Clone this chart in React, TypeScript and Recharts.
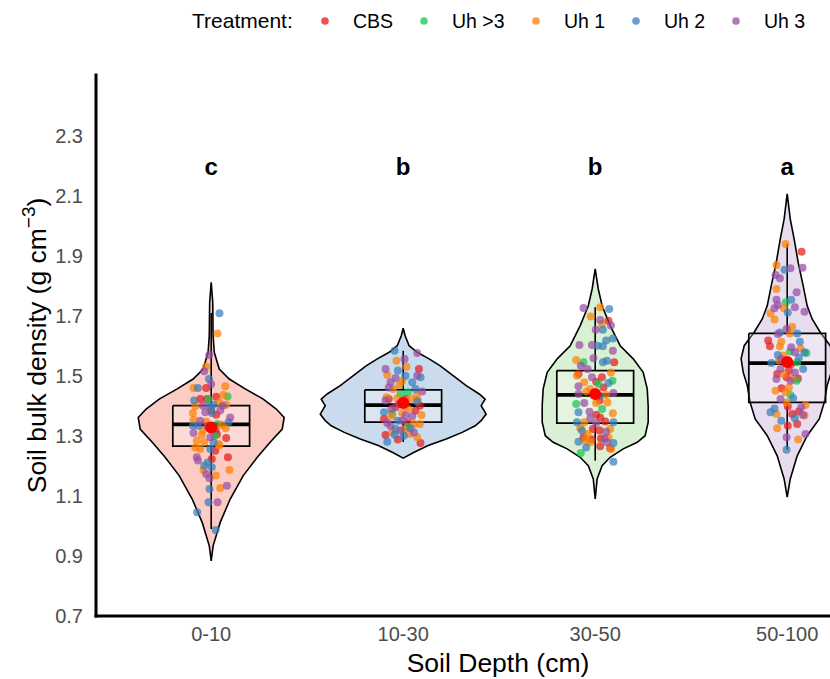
import React from "react";
import { ComposedChart, Scatter, XAxis, YAxis } from "recharts";

const FONT = "'Liberation Sans', Arial, Helvetica, sans-serif";

const depths = ["0-10", "10-30", "30-50", "50-100"];
const treatments = ["CBS", "Uh >3", "Uh 1", "Uh 2", "Uh 3"];
const groupLetters = ["c", "b", "b", "a"];
const yTicks = [0.7, 0.9, 1.1, 1.3, 1.5, 1.7, 1.9, 2.1, 2.3];

// violin outlines, top to bottom: [bulk density, half width in category units]
const violin0_10: [number, number][] = [
  [1.812, 0], [1.746, 0.008], [1.634, 0.01], [1.579, 0.016], [1.523, 0.042],
  [1.49, 0.094], [1.457, 0.177], [1.423, 0.271], [1.39, 0.339], [1.362, 0.38],
  [1.323, 0.37], [1.279, 0.307], [1.229, 0.24], [1.168, 0.167], [1.09, 0.099],
  [1.012, 0.047], [0.934, 0.01], [0.884, 0],
];
const violin10_30: [number, number][] = [
  [1.659, 0], [1.634, 0.01], [1.601, 0.031], [1.579, 0.073], [1.557, 0.135],
  [1.534, 0.193], [1.501, 0.26], [1.468, 0.328], [1.44, 0.396], [1.423, 0.427],
  [1.401, 0.406], [1.373, 0.432], [1.351, 0.406], [1.334, 0.375], [1.312, 0.307],
  [1.29, 0.224], [1.268, 0.13], [1.246, 0.057], [1.226, 0],
];
const violin30_50: [number, number][] = [
  [1.857, 0], [1.79, 0.016], [1.734, 0.036], [1.668, 0.078], [1.601, 0.13],
  [1.557, 0.198], [1.512, 0.25], [1.457, 0.271], [1.401, 0.276], [1.346, 0.276],
  [1.301, 0.26], [1.279, 0.219], [1.257, 0.146], [1.229, 0.078], [1.201, 0.036],
  [1.157, 0.01], [1.09, 0],
];
const violin50_100: [number, number][] = [
  [2.107, 0], [2.023, 0.016], [1.957, 0.036], [1.879, 0.057], [1.801, 0.083],
  [1.734, 0.104], [1.69, 0.13], [1.646, 0.172], [1.601, 0.224], [1.557, 0.24],
  [1.512, 0.229], [1.468, 0.208], [1.412, 0.193], [1.357, 0.167], [1.301, 0.104],
  [1.234, 0.052], [1.157, 0.016], [1.096, 0],
];
const violins = [violin0_10, violin10_30, violin30_50, violin50_100];

// box plot: [lower whisker, q1, median, q3, upper whisker]
const boxStats: [number, number, number, number, number][] = [
  [0.99, 1.266, 1.339, 1.401, 1.71],
  [1.28, 1.346, 1.403, 1.454, 1.584],
  [1.218, 1.343, 1.437, 1.518, 1.729],
  [1.254, 1.412, 1.543, 1.642, 1.94],
];
const groupMeans = [1.328, 1.41, 1.44, 1.547];

// jittered observations: [x jitter, bulk density, treatment index]
const obs0_10: [number, number, number][] = [
  [0.043, 1.709, 3], [0.033, 1.642, 2], [-0.01, 1.57, 4], [-0.026, 1.532, 2], [-0.036, 1.516, 4],
  [-0.012, 1.49, 3], [0, 1.473, 4], [-0.092, 1.46, 2], [-0.069, 1.46, 3], [-0.026, 1.46, 0],
  [0.073, 1.466, 2], [0.064, 1.437, 2], [0.085, 1.432, 1], [0.026, 1.431, 0], [-0.057, 1.423, 0],
  [-0.014, 1.423, 1], [-0.089, 1.418, 3], [0.043, 1.412, 2], [0.078, 1.404, 2], [0.012, 1.404, 3],
  [-0.043, 1.401, 4], [-0.009, 1.399, 3], [-0.083, 1.399, 2], [0.061, 1.401, 4], [-0.095, 1.377, 2],
  [-0.031, 1.379, 4], [0.003, 1.377, 3], [0.026, 1.371, 0], [0.099, 1.362, 4], [-0.092, 1.354, 2],
  [-0.057, 1.351, 4], [-0.026, 1.348, 2], [0.09, 1.346, 3], [-0.095, 1.334, 3], [0.033, 1.34, 1],
  [0.056, 1.337, 2], [-0.019, 1.332, 4], [0.076, 1.326, 2], [-0.092, 1.31, 4], [-0.049, 1.304, 2],
  [0.019, 1.301, 1], [-0.005, 1.296, 4], [0.078, 1.293, 0], [-0.075, 1.284, 2], [-0.036, 1.279, 2],
  [0.038, 1.273, 2], [0.012, 1.279, 3], [-0.083, 1.262, 2], [-0.057, 1.257, 2], [0.021, 1.251, 0],
  [0.043, 1.268, 2], [-0.075, 1.229, 4], [0.087, 1.229, 0], [0.003, 1.223, 0], [-0.069, 1.218, 4],
  [-0.019, 1.212, 3], [-0.036, 1.201, 3], [0.003, 1.196, 3], [-0.04, 1.187, 2], [0.095, 1.187, 2],
  [-0.026, 1.173, 4], [0.024, 1.168, 2], [-0.009, 1.159, 4], [-0.009, 1.123, 3], [0.082, 1.134, 4],
  [0.047, 1.127, 2], [-0.014, 1.079, 3], [0.033, 1.079, 4], [-0.073, 1.046, 3], [0.023, 0.987, 3],
  [0, 1.385, 0], [-0.066, 1.334, 3], [-0.043, 1.318, 2], [0.047, 1.385, 4], [-0.022, 1.423, 0],
  [0.023, 1.318, 0], [-0.005, 1.257, 3], [0.03, 1.305, 0],
];
const obs10_30: [number, number, number][] = [
  [-0.045, 1.584, 3], [0.073, 1.577, 4], [-0.035, 1.551, 2], [0.007, 1.557, 4], [0.017, 1.531, 2],
  [-0.092, 1.523, 4], [0.082, 1.523, 0], [-0.028, 1.518, 3], [0.073, 1.501, 4], [-0.083, 1.503, 2],
  [0.09, 1.496, 3], [-0.04, 1.493, 4], [-0.005, 1.484, 2], [0.012, 1.501, 3], [-0.066, 1.479, 4],
  [-0.052, 1.457, 2], [0.064, 1.457, 3], [0.024, 1.446, 1], [-0.014, 1.44, 1], [0.099, 1.448, 4],
  [-0.087, 1.429, 2], [0.069, 1.434, 2], [-0.075, 1.423, 0], [-0.092, 1.418, 4], [0.038, 1.423, 2],
  [-0.023, 1.407, 4], [0.073, 1.414, 3], [0.076, 1.421, 2], [-0.04, 1.396, 0], [0.026, 1.39, 2],
  [-0.062, 1.39, 4], [0.064, 1.384, 0], [-0.005, 1.377, 2], [-0.1, 1.379, 3], [0.012, 1.368, 4],
  [0.095, 1.37, 2], [-0.1, 1.357, 0], [-0.061, 1.366, 2], [0.047, 1.366, 4], [-0.083, 1.343, 4],
  [-0.028, 1.351, 3], [0.087, 1.34, 2], [0.024, 1.343, 0], [-0.066, 1.334, 4], [0.021, 1.329, 1],
  [-0.04, 1.323, 3], [0.003, 1.321, 2], [0.035, 1.307, 2], [-0.092, 1.303, 0], [-0.045, 1.304, 3],
  [-0.014, 1.318, 4], [-0.028, 1.288, 0], [0.073, 1.296, 2], [-0.083, 1.281, 3], [0.09, 1.277, 0],
  [0.056, 1.312, 4], [0.003, 1.301, 3], [-0.057, 1.314, 2], [-0.075, 1.462, 4], [-0.019, 1.47, 2],
  [0.047, 1.479, 3], [0.087, 1.401, 0], [-0.057, 1.373, 1], [0.056, 1.34, 2], [-0.005, 1.351, 4],
  [0.038, 1.326, 3], [0.012, 1.423, 0], [-0.031, 1.426, 2],
];
const obs30_50: [number, number, number][] = [
  [-0.061, 1.727, 4], [0.026, 1.729, 2], [0.073, 1.723, 3], [-0.023, 1.698, 2], [0.026, 1.687, 4],
  [0.069, 1.684, 0], [0.035, 1.673, 2], [0.082, 1.668, 4], [0.003, 1.654, 4], [0.04, 1.654, 3],
  [0.092, 1.625, 3], [0.057, 1.618, 3], [-0.082, 1.603, 4], [-0.017, 1.603, 4], [0.012, 1.601, 3],
  [0.04, 1.599, 3], [0.092, 1.584, 4], [-0.009, 1.559, 4], [-0.099, 1.553, 2], [0.061, 1.551, 3],
  [0.04, 1.546, 3], [-0.061, 1.546, 1], [0.099, 1.546, 0], [-0.075, 1.534, 4], [-0.087, 1.507, 0],
  [-0.04, 1.523, 4], [0.082, 1.512, 2], [-0.095, 1.501, 2], [-0.017, 1.496, 4], [0.035, 1.496, 0],
  [0.09, 1.484, 1], [-0.057, 1.479, 2], [0.005, 1.481, 0], [0.017, 1.473, 1], [-0.087, 1.466, 4],
  [0.069, 1.477, 3], [-0.026, 1.457, 2], [0.043, 1.462, 0], [-0.087, 1.44, 4], [0.057, 1.437, 2],
  [0.095, 1.443, 4], [-0.047, 1.448, 2], [0.023, 1.434, 3], [-0.099, 1.407, 1], [-0.057, 1.41, 4],
  [0.005, 1.41, 2], [0.064, 1.412, 2], [0.023, 1.418, 0], [0.036, 1.39, 1], [-0.087, 1.379, 3],
  [-0.03, 1.381, 4], [0.092, 1.376, 2], [0.005, 1.371, 0], [-0.026, 1.359, 4], [0.026, 1.362, 0],
  [-0.095, 1.346, 3], [0.095, 1.346, 3], [0.052, 1.348, 0], [-0.057, 1.346, 2], [0.005, 1.343, 4],
  [-0.078, 1.326, 2], [-0.012, 1.323, 0], [0.023, 1.318, 0], [0.078, 1.323, 2], [-0.069, 1.318, 3],
  [-0.04, 1.307, 2], [0.057, 1.314, 4], [-0.061, 1.296, 0], [0.069, 1.296, 2], [-0.017, 1.288, 0],
  [0.061, 1.279, 4], [-0.052, 1.284, 2], [-0.087, 1.281, 3], [0.03, 1.292, 0], [-0.026, 1.279, 2],
  [0.095, 1.277, 3], [0.049, 1.292, 4], [-0.047, 1.262, 3], [0.026, 1.266, 0], [0.078, 1.259, 0],
  [0.083, 1.257, 2], [-0.075, 1.243, 1], [0.095, 1.214, 3],
];
const obs50_100: [number, number, number][] = [
  [-0.009, 1.94, 2], [0.075, 1.914, 0], [-0.056, 1.87, 2], [-0.014, 1.854, 3], [0.017, 1.859, 4],
  [0.08, 1.861, 4], [-0.061, 1.837, 4], [-0.038, 1.826, 4], [-0.056, 1.79, 2], [0.049, 1.779, 4],
  [-0.056, 1.754, 4], [0.021, 1.754, 3], [-0.007, 1.746, 1], [-0.049, 1.737, 4], [0.04, 1.729, 4],
  [-0.017, 1.726, 2], [-0.066, 1.726, 4], [-0.087, 1.709, 2], [0.003, 1.712, 3], [0.09, 1.714, 4],
  [-0.066, 1.688, 2], [0.026, 1.664, 2], [-0.003, 1.657, 4], [-0.038, 1.645, 3], [0.014, 1.642, 2],
  [0.052, 1.642, 3], [-0.049, 1.64, 4], [-0.031, 1.614, 2], [-0.099, 1.618, 0], [0.066, 1.614, 3],
  [-0.09, 1.599, 0], [-0.038, 1.598, 2], [0.021, 1.596, 4], [0.069, 1.592, 2], [0.014, 1.582, 1],
  [0.04, 1.579, 4], [0.09, 1.579, 3], [0.1, 1.577, 1], [-0.049, 1.57, 3], [-0.021, 1.568, 2],
  [0.061, 1.562, 3], [-0.031, 1.557, 4], [-0.082, 1.543, 3], [-0.043, 1.551, 2], [0.021, 1.54, 0],
  [0.052, 1.546, 1], [0.083, 1.523, 3], [-0.035, 1.523, 4], [0.009, 1.518, 0], [-0.021, 1.507, 2],
  [-0.052, 1.507, 0], [0.04, 1.512, 4], [-0.003, 1.496, 0], [-0.056, 1.49, 4], [0.026, 1.492, 2],
  [0.056, 1.492, 0], [0.049, 1.484, 1], [0.017, 1.484, 4], [-0.061, 1.451, 2], [-0.03, 1.459, 0],
  [0.009, 1.462, 2], [-0.009, 1.446, 2], [0.017, 1.437, 1], [-0.035, 1.423, 4], [0.031, 1.426, 3],
  [-0.003, 1.412, 2], [0.003, 1.398, 0], [-0.066, 1.392, 3], [0.073, 1.396, 4], [0.095, 1.403, 2],
  [0.061, 1.382, 0], [-0.087, 1.379, 3], [0.026, 1.373, 0], [-0.056, 1.373, 2], [0.083, 1.37, 4],
  [0.04, 1.359, 3], [0.09, 1.368, 2], [-0.031, 1.351, 3], [0.052, 1.34, 0], [0.003, 1.334, 0],
  [-0.052, 1.326, 2], [-0.003, 1.296, 4], [0.095, 1.307, 4], [0.057, 1.288, 2], [-0.003, 1.254, 3],
];
const observations = [obs0_10, obs10_30, obs30_50, obs50_100];

const treatmentColors = ["#E41A1C", "#12C650", "#FF7F00", "#377EB8", "#984EA3"];
const violinFills = ["#FBCBC4", "#C9DBEC", "#D9F0D5", "#E7DDEE"];

const BOX_HALF = 0.2;
const noDot = () => <g />;

function violinOutline(profile: [number, number][], center: number) {
  const right = profile.map(([y, w]) => ({ x: center + w, y }));
  const left = [...profile].reverse().map(([y, w]) => ({ x: center - w, y }));
  return [...right, ...left, right[0]];
}

function boxOutline(stats: number[], center: number) {
  const q1 = stats[1];
  const q3 = stats[3];
  return [
    { x: center - BOX_HALF, y: q3 },
    { x: center + BOX_HALF, y: q3 },
    { x: center + BOX_HALF, y: q1 },
    { x: center - BOX_HALF, y: q1 },
    { x: center - BOX_HALF, y: q3 },
  ];
}

function YTitle(props: any) {
  const vb = props.viewBox || { y: 75, height: 541 };
  const cx = 46;
  const cy = vb.y + vb.height / 2;
  return (
    <text
      x={cx}
      y={cy}
      transform={`rotate(-90 ${cx} ${cy})`}
      textAnchor="middle"
      fontSize={26.5}
      fontFamily={FONT}
      fill="#000"
    >
      Soil bulk density (g cm
      <tspan dy={-11} fontSize={19}>
        −3
      </tspan>
      <tspan dy={11}>)</tspan>
    </text>
  );
}

function XTitle() {
  return (
    <text x={498} y={672} textAnchor="middle" fontSize={26.5} fontFamily={FONT} fill="#000">
      Soil Depth (cm)
    </text>
  );
}

const legendDotX = [325, 424, 536, 636, 736];

function TreatmentLegend() {
  return (
    <svg width={830} height={45} style={{ position: "absolute", left: 0, top: 0 }}>
      <text x={192} y={28} fontSize={21} fontFamily={FONT} fill="#000">
        Treatment:
      </text>
      {treatments.map((t, i) => (
        <g key={t}>
          <circle cx={legendDotX[i]} cy={21} r={3.8} fill={treatmentColors[i]} fillOpacity={0.75} />
          <text x={legendDotX[i] + 28} y={28} fontSize={19.5} fontFamily={FONT} fill="#000">
            {t}
          </text>
        </g>
      ))}
    </svg>
  );
}

export default function App() {
  const letterData = groupLetters.map((label, i) => ({ x: i + 1, y: 2.2, label }));
  const meanData = groupMeans.map((m, i) => ({ x: i + 1, y: m }));

  return (
    <div style={{ position: "absolute", left: 0, top: 0, width: 830, height: 679, background: "#fff" }}>
      <ComposedChart width={830} height={679} margin={{ top: 75, right: 0, bottom: 0, left: 0 }}>
        <XAxis
          type="number"
          dataKey="x"
          domain={[0.4, 4.2229]}
          allowDataOverflow
          ticks={[1, 2, 3, 4]}
          interval={0}
          tickFormatter={(v) => depths[Math.round(v) - 1] ?? ""}
          tickLine={false}
          tickSize={0}
          tickMargin={11}
          height={63}
          axisLine={{ stroke: "#000", strokeWidth: 3, strokeLinecap: "square" }}
          tick={{ fill: "#4D4D4D", fontSize: 20, fontFamily: FONT }}
          label={<XTitle />}
        />
        <YAxis
          type="number"
          dataKey="y"
          domain={[0.7, 2.5033]}
          allowDataOverflow
          ticks={yTicks}
          interval={0}
          tickFormatter={(v) => Number(v).toFixed(1)}
          tickLine={false}
          tickSize={0}
          tickMargin={13}
          width={96}
          axisLine={{ stroke: "#000", strokeWidth: 3, strokeLinecap: "square" }}
          tick={{ fill: "#4D4D4D", fontSize: 20, fontFamily: FONT }}
          label={<YTitle />}
        />

        {violins.map((profile, i) => (
          <Scatter
            key={`violin-${i}`}
            data={violinOutline(profile, i + 1)}
            shape={noDot}
            line={{ stroke: "#000", strokeWidth: 1.6, fill: violinFills[i] }}
            lineType="joint"
            lineJointType="linear"
            legendType="none"
            isAnimationActive={false}
          />
        ))}

        {boxStats.map((s, i) => (
          <Scatter
            key={`whisker-hi-${i}`}
            data={[{ x: i + 1, y: s[3] }, { x: i + 1, y: s[4] }]}
            shape={noDot}
            line={{ stroke: "#000", strokeWidth: 1.6 }}
            lineType="joint"
            lineJointType="linear"
            isAnimationActive={false}
          />
        ))}
        {boxStats.map((s, i) => (
          <Scatter
            key={`whisker-lo-${i}`}
            data={[{ x: i + 1, y: s[1] }, { x: i + 1, y: s[0] }]}
            shape={noDot}
            line={{ stroke: "#000", strokeWidth: 1.6 }}
            lineType="joint"
            lineJointType="linear"
            isAnimationActive={false}
          />
        ))}
        {boxStats.map((s, i) => (
          <Scatter
            key={`box-${i}`}
            data={boxOutline(s, i + 1)}
            shape={noDot}
            line={{ stroke: "#000", strokeWidth: 1.7, fill: "#ffffff", fillOpacity: 0.3 }}
            lineType="joint"
            lineJointType="linear"
            isAnimationActive={false}
          />
        ))}
        {boxStats.map((s, i) => (
          <Scatter
            key={`median-${i}`}
            data={[{ x: i + 1 - BOX_HALF, y: s[2] }, { x: i + 1 + BOX_HALF, y: s[2] }]}
            shape={noDot}
            line={{ stroke: "#000", strokeWidth: 3.8 }}
            lineType="joint"
            lineJointType="linear"
            isAnimationActive={false}
          />
        ))}

        {treatments.map((t, ti) => (
          <Scatter
            key={`obs-${t}`}
            name={t}
            data={observations.flatMap((obs, gi) =>
              obs.filter((o) => o[2] === ti).map((o) => ({ x: gi + 1 + o[0], y: o[1] }))
            )}
            shape={(p: any) => (
              <circle cx={p.cx} cy={p.cy} r={4} fill={treatmentColors[ti]} fillOpacity={0.72} />
            )}
            isAnimationActive={false}
          />
        ))}

        <Scatter
          data={meanData}
          shape={(p: any) => <circle cx={p.cx} cy={p.cy} r={6} fill="#FF0000" />}
          isAnimationActive={false}
        />
        <Scatter
          data={letterData}
          shape={(p: any) => (
            <text
              x={p.cx}
              y={p.cy + 9}
              textAnchor="middle"
              fontSize={24}
              fontWeight="bold"
              fontFamily={FONT}
              fill="#000"
            >
              {p.payload.label}
            </text>
          )}
          isAnimationActive={false}
        />
      </ComposedChart>
      <TreatmentLegend />
    </div>
  );
}
